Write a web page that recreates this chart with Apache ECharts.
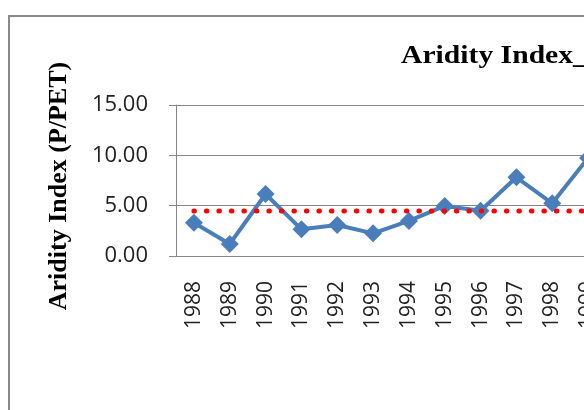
<!DOCTYPE html>
<html>
<head>
<meta charset="utf-8">
<script src="https://cdn.jsdelivr.net/npm/echarts@6/dist/echarts.min.js"></script>
<style>
  html, body { margin: 0; padding: 0; background: #fff; overflow: hidden; width: 584px; height: 410px; }
  /* chart is wider than the window: the reference is cropped on the right */
  #chart { width: 606px; height: 410px; }
</style>
</head>
<body>
<div id="chart"></div>
<script>
// years on the category axis (chart is cropped after 1999)
const years = ['1988', '1989', '1990', '1991', '1992', '1993', '1994', '1995', '1996', '1997', '1998', '1999']
// Aridity Index (P/PET) per year
const aridityValues = [3.31, 1.19, 6.16, 2.65, 3.08, 2.25, 3.48, 4.97, 4.50, 7.82, 5.23, 9.73]
// average, drawn as red dotted line
const meanIndex = 4.47
const meanLine = years.map(() => meanIndex)
// y tick labels
const yTicks = [0, 5, 10, 15]

const chartInstance = echarts.init(document.getElementById('chart'))

const option = {
  animation: false,
  grid: {
    left: 176,
    top: 105,
    bottom: 154,
    right: 0
  },
  graphic: [
    {
      // outer frame of the chart area
      type: 'rect',
      shape: {x: 9, y: 16, width: 1000, height: 1000},
      style: {fill: 'none', stroke: '#8a8a8a', lineWidth: 2},
      silent: true
    },
    {
      type: 'text',
      x: 401,
      y: 56,
      scaleX: 1.14,
      style: {
        text: 'Aridity Index_',
        font: 'bold 26px "Liberation Serif", serif',
        fill: '#000',
        verticalAlign: 'middle'
      }
    },
    {
      type: 'text',
      x: 59,
      y: 186,
      rotation: Math.PI / 2,
      style: {
        text: 'Aridity Index (P/PET)',
        font: 'bold 26px "Liberation Serif", serif',
        fill: '#000',
        align: 'center',
        verticalAlign: 'middle'
      }
    }
  ],
  xAxis: {
    type: 'category',
    data: years,
    boundaryGap: true,
    axisLine: {show: true, lineStyle: {color: '#868686', width: 1}},
    axisTick: {show: false},
    axisLabel: {
      interval: 0,
      rotate: 90,
      margin: 25,
      fontFamily: '"Open Sans", sans-serif',
      fontSize: 21,
      color: '#222'
    },
    splitLine: {show: false}
  },
  yAxis: {
    type: 'value',
    min: yTicks[0],
    max: yTicks[yTicks.length - 1],
    interval: 5,
    axisLine: {show: true, lineStyle: {color: '#868686', width: 1}},
    axisTick: {show: true, length: 7, lineStyle: {color: '#868686'}},
    axisLabel: {
      margin: 28,
      fontFamily: '"Open Sans", sans-serif',
      fontSize: 22,
      color: '#222',
      formatter: (v) => v.toFixed(2)
    },
    splitLine: {show: true, lineStyle: {color: '#868686', width: 1}}
  },
  series: [
    {
      name: 'Aridity Index',
      type: 'line',
      data: aridityValues,
      symbol: 'diamond',
      symbolSize: 18,
      lineStyle: {color: '#4A7EBB', width: 4},
      itemStyle: {color: '#4A7EBB'},
      z: 2
    },
    {
      name: 'Mean',
      type: 'line',
      data: meanLine,
      symbol: 'none',
      lineStyle: {color: '#FF0000', width: 5, type: [0.5, 12], cap: 'round'},
      z: 3
    }
  ]
}

chartInstance.setOption(option)
</script>
</body>
</html>
